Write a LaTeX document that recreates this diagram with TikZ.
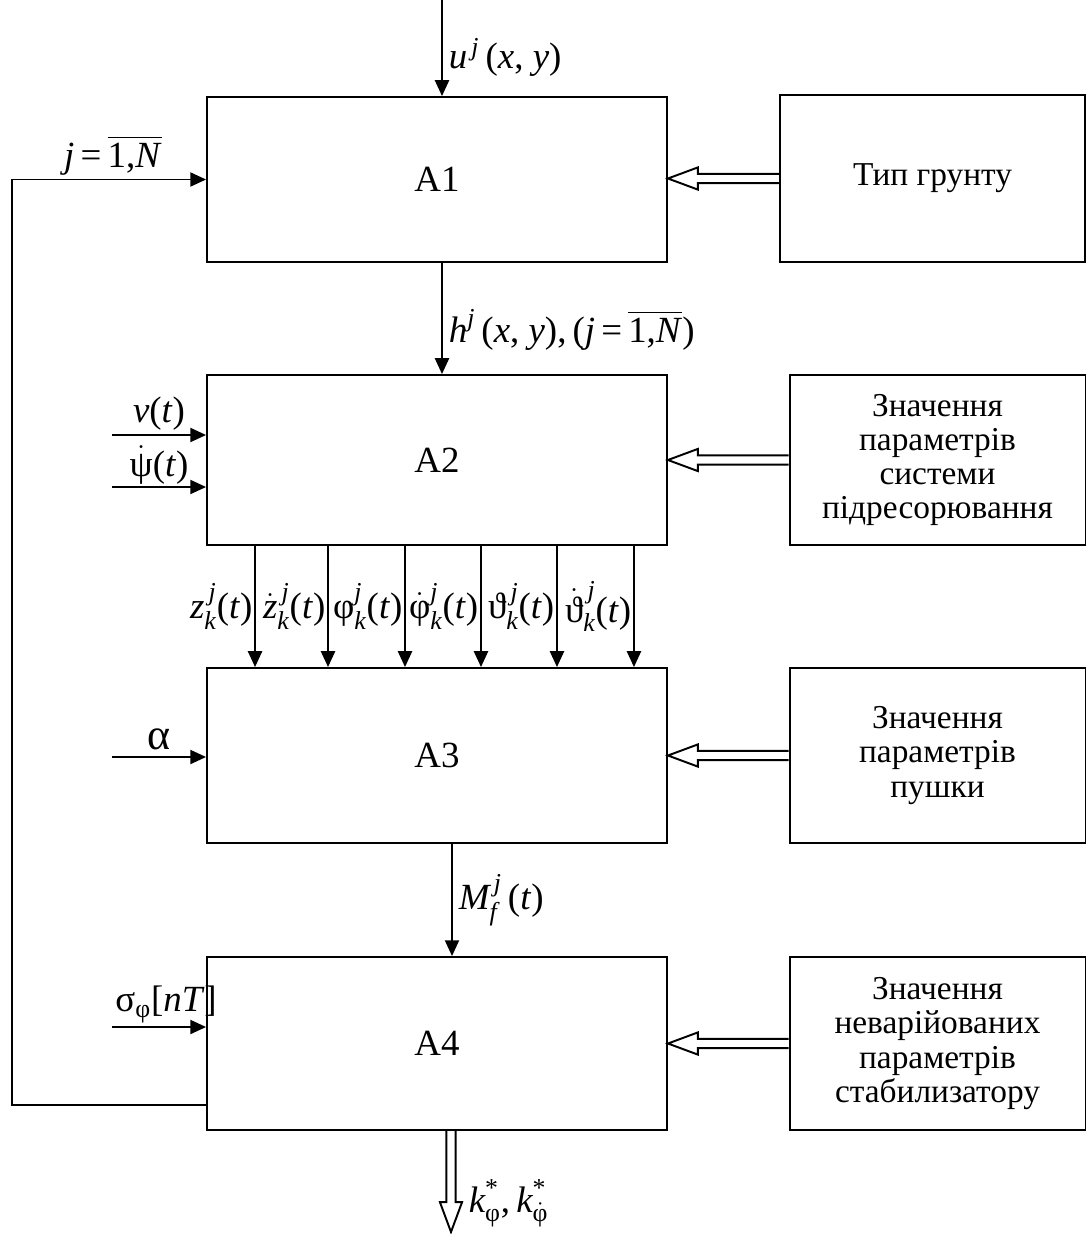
\documentclass[tikz,border=0pt]{standalone}
\usepackage{fontspec}
\setmainfont{Liberation Serif}
\usepackage{amsmath}
\usetikzlibrary{arrows.meta, calc}

\newcommand{\itv}[1]{\textit{#1}}
\newcommand{\grk}[1]{\text{#1}}
% hollow arrow, right to left
\newcommand{\sidearrow}[2]{%
  \draw let \p1=(#1), \p2=(#2) in
    (\x1,\y1+2.6pt) -- (\x2+17pt,\y1+2.6pt) -- (\x2+17pt,\y1+6.3pt) -- (\x2,\y1)
    -- (\x2+17pt,\y1-6.3pt) -- (\x2+17pt,\y1-2.6pt) -- (\x1,\y1-2.6pt);}
% hollow arrow, top to bottom
\newcommand{\hollowdown}[2]{%
  \draw let \p1=(#1), \p2=(#2) in
    (\x1-2.6pt,\y1) -- (\x1-2.6pt,\y2+17pt) -- (\x1-6.3pt,\y2+17pt) -- (\x1,\y2)
    -- (\x1+6.3pt,\y2+17pt) -- (\x1+2.6pt,\y2+17pt) -- (\x1+2.6pt,\y1);}

\begin{document}
\begin{tikzpicture}[x=0.02cm, y=-0.02cm, >={Triangle[length=9pt,width=8pt]},
  line width=1.1pt,
  every node/.style={font=\fontsize{19}{19.5}\selectfont},
  block/.style={draw, minimum width=9.2cm, inner sep=0pt, font=\fontsize{21}{24}\selectfont},
  side/.style={draw, minimum width=5.92cm, inner sep=0pt, align=center},
  lbl/.style={font=\fontsize{21}{24}\selectfont}]

\useasboundingbox (0,0) rectangle (1087,1234);

\node[block, minimum height=3.3cm] (a1) at (437,179.5) {A1};
\node[block, minimum height=3.4cm] (a2) at (437,460) {A2};
\node[block, minimum height=3.5cm] (a3) at (437,755.5) {A3};
\node[block, minimum height=3.46cm] (a4) at (437,1043.5) {A4};

\node[side, minimum width=6.1cm, minimum height=3.34cm] (ground) at (932.5,178.5) {Тип грунту};
\node[side, minimum height=3.4cm] (susp) at (937.5,460) {Значення\\параметрів\\системи\\підресорювання};
\node[side, minimum height=3.5cm] (gun) at (937.5,755.5) {Значення\\параметрів\\пушки};
\node[side, minimum height=3.46cm] (stab) at (937.5,1043.5) {Значення\\неварійованих\\параметрів\\стабилизатору};

\sidearrow{ground.west}{a1.east}
\sidearrow{susp.west}{a2.east}
\sidearrow{gun.west}{a3.east}
\sidearrow{stab.west}{a4.east}

\coordinate (uin) at (442,0);
\draw[->] (uin) -- node[lbl, right, pos=0.6] (ulab) {$\itv{u}^{\,\itv{j}}$\,(\itv{x}, \itv{y})} (uin |- a1.north);

\draw[->] ([xshift=0.1cm]a1.south) -- node[lbl, right, pos=0.6] (hlab)
  {$\itv{h}^{\itv{j}}$\,(\itv{x}, \itv{y}),\,(\itv{j}\,=\,$\overline{\text{1,\itv{N}}}$)} ([xshift=0.1cm]a2.north);

\coordinate (vin) at (112,435);
\coordinate (psin) at (112,487);
\coordinate (alin) at (112,757);
\coordinate (sgin) at (112,1027);

\draw[->] (vin) -- node[lbl, above, inner sep=2pt] (vlab) {\itv{v}(\itv{t})} (vin -| a2.west);
\draw[->] (psin) -- node[lbl, above, inner sep=1pt] (pslab) {$\dot{\grk{ψ}}$(\itv{t})} (psin -| a2.west);
\draw[->] (alin) -- node[lbl, above, font=\fontsize{25}{26}\selectfont] (allab) {α} (alin -| a3.west);
\draw[->] (sgin) -- node[lbl, above, inner sep=2pt, xshift=4pt] (sglab) {σ$_{\grk{φ}}$[\itv{nT}]} (sgin -| a4.west);

\draw[->] ([xshift=-3.64cm]a2.south) -- node[lbl, left, inner sep=1pt] (z1) {$\itv{z}^{\,\itv{j}}_{\itv{k}}$(\itv{t})} ([xshift=-3.64cm]a3.north);
\draw[->] ([xshift=-2.18cm]a2.south) -- node[lbl, left, inner sep=1pt] (z2) {$\dot{\itv{z}}^{\,\itv{j}}_{\itv{k}}$(\itv{t})} ([xshift=-2.18cm]a3.north);
\draw[->] ([xshift=-0.64cm]a2.south) -- node[lbl, left, inner sep=1pt] (z3) {$\grk{φ}^{\itv{j}}_{\itv{k}}$(\itv{t})} ([xshift=-0.64cm]a3.north);
\draw[->] ([xshift=0.88cm]a2.south) -- node[lbl, left, inner sep=1pt] (z4) {$\dot{\grk{φ}}^{\itv{j}}_{\itv{k}}$(\itv{t})} ([xshift=0.88cm]a3.north);
\draw[->] ([xshift=2.4cm]a2.south) -- node[lbl, left, inner sep=1pt] (z5) {$\grk{ϑ}^{\,\itv{j}}_{\itv{k}}$(\itv{t})} ([xshift=2.4cm]a3.north);
\draw[->] ([xshift=3.94cm]a2.south) -- node[lbl, left, inner sep=1pt] (z6) {$\dot{\grk{ϑ}}^{\,\itv{j}}_{\itv{k}}$(\itv{t})} ([xshift=3.94cm]a3.north);

\draw[->] ([xshift=0.3cm]a3.south) -- node[lbl, right] (mlab) {$\itv{M}^{\,\itv{j}}_{\itv{f}}$\,(\itv{t})} ([xshift=0.3cm]a4.north);

\coordinate (fbout) at (207,1105);
\coordinate (fbturn) at (12,1105);
\draw[->] (fbout) -- (fbturn) |- node[lbl, pos=0.76, above, inner sep=2pt] (jlab) {\itv{j}\,=\,$\overline{\text{1,\itv{N}}}$} (a1.west);

\coordinate (kout) at (451,1232);
\hollowdown{[xshift=0.28cm]a4.south}{kout}
\node[lbl, right] (klab) at (462,1203) {$\itv{k}^{\text{*}}_{\grk{φ}}$,\,$\itv{k}^{\text{*}}_{\dot{\grk{φ}}}$};

\end{tikzpicture}
\end{document}
